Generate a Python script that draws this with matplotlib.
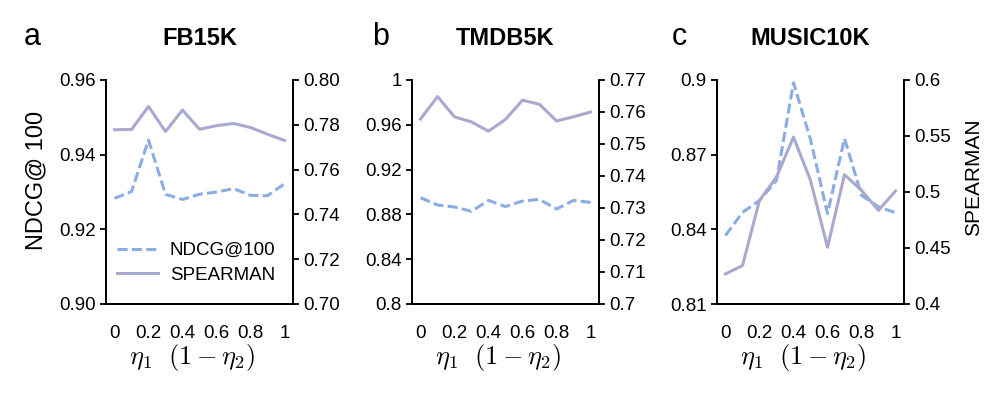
import matplotlib
matplotlib.use('Agg')
import matplotlib.pyplot as plt

plt.rcParams['font.family'] = ['Liberation Sans', 'DejaVu Sans']
plt.rcParams['mathtext.fontset'] = 'cm'

# eta_1 values (x axis)
eta = [0, 0.1, 0.2, 0.3, 0.4, 0.5, 0.6, 0.7, 0.8, 0.9, 1.0]
x_ticks = [0, 0.2, 0.4, 0.6, 0.8, 1.0]
x_ticklabels = ['0', '0.2', '0.4', '0.6', '0.8', '1']

titles = ['FB15K', 'TMDB5K', 'MUSIC10K']
letters = ['a', 'b', 'c']

# NDCG@100 (left axis)
ndcg_fb = [0.9283, 0.9301, 0.9439, 0.9294, 0.9280, 0.9294, 0.9300, 0.9309, 0.9291, 0.9290, 0.9322]
ndcg_tmdb = [0.8949, 0.8884, 0.8866, 0.8827, 0.8925, 0.8870, 0.8919, 0.8934, 0.8848, 0.8925, 0.8907]
ndcg_music = [0.8375, 0.8468, 0.8516, 0.8597, 0.8989, 0.8761, 0.8463, 0.8765, 0.8537, 0.8490, 0.8467]

# SPEARMAN (right axis)
spear_fb = [0.7778, 0.7779, 0.7882, 0.7770, 0.7866, 0.7780, 0.7796, 0.7806, 0.7788, 0.7758, 0.7730]
spear_tmdb = [0.7578, 0.7648, 0.7585, 0.7569, 0.7540, 0.7577, 0.7637, 0.7624, 0.7572, 0.7585, 0.7600]
spear_music = [0.4269, 0.4343, 0.4925, 0.5134, 0.5490, 0.5104, 0.4507, 0.5155, 0.5015, 0.4836, 0.5009]

# left axis ticks
left_ticks_fb = [0.90, 0.92, 0.94, 0.96]
left_labels_fb = ['0.90', '0.92', '0.94', '0.96']
left_ticks_tmdb = [0.80, 0.84, 0.88, 0.92, 0.96, 1.0]
left_labels_tmdb = ['0.8', '0.84', '0.88', '0.92', '0.96', '1']
left_ticks_music = [0.81, 0.84, 0.87, 0.90]
left_labels_music = ['0.81', '0.84', '0.87', '0.9']

# right axis ticks
right_ticks_fb = [0.70, 0.72, 0.74, 0.76, 0.78, 0.80]
right_labels_fb = ['0.70', '0.72', '0.74', '0.76', '0.78', '0.80']
right_ticks_tmdb = [0.70, 0.71, 0.72, 0.73, 0.74, 0.75, 0.76, 0.77]
right_labels_tmdb = ['0.7', '0.71', '0.72', '0.73', '0.74', '0.75', '0.76', '0.77']
right_ticks_music = [0.40, 0.45, 0.50, 0.55, 0.60]
right_labels_music = ['0.4', '0.45', '0.5', '0.55', '0.6']

ndcg_all = [ndcg_fb, ndcg_tmdb, ndcg_music]
spear_all = [spear_fb, spear_tmdb, spear_music]
left_ticks = [left_ticks_fb, left_ticks_tmdb, left_ticks_music]
left_labels = [left_labels_fb, left_labels_tmdb, left_labels_music]
right_ticks = [right_ticks_fb, right_ticks_tmdb, right_ticks_music]
right_labels = [right_labels_fb, right_labels_tmdb, right_labels_music]

ndcg_color = '#8cace4'
spear_color = '#a9a9cf'
tick_fs = 13.5

fig = plt.figure(figsize=(9.96, 3.95), dpi=100)
lefts = [106 / 996, 412 / 996, 717 / 996]
letter_x = [-0.44, -0.215, -0.24]

for i in range(3):
    ax = fig.add_axes([lefts[i], 91 / 395, 187 / 996, 224 / 395])
    ax2 = ax.twinx()

    l1, = ax.plot(eta, ndcg_all[i], color=ndcg_color, lw=2.2,
                  linestyle=(0, (3.3, 1.4)), label='NDCG@100')
    l2, = ax2.plot(eta, spear_all[i], color=spear_color, lw=2.2,
                   label='SPEARMAN')

    ax.set_xlim(-0.05, 1.05)
    ax.set_ylim(left_ticks[i][0], left_ticks[i][-1])
    ax2.set_ylim(right_ticks[i][0], right_ticks[i][-1])
    ax.set_xticks(x_ticks)
    ax.set_xticklabels(x_ticklabels)
    ax.set_yticks(left_ticks[i])
    ax.set_yticklabels(left_labels[i])
    ax2.set_yticks(right_ticks[i])
    ax2.set_yticklabels(right_labels[i])

    for a in (ax, ax2):
        a.spines['top'].set_visible(False)
        for s in a.spines.values():
            s.set_linewidth(1.3)
        a.tick_params(axis='y', length=4.5, width=1.3, labelsize=tick_fs, pad=3)
        a.tick_params(axis='x', length=0, labelsize=tick_fs, pad=15)

    ax.set_xlabel(r'$\eta_1\ \ (1-\eta_2)$', fontsize=19)
    ax.xaxis.set_label_coords(0.46, -0.17)

    ax.set_title(titles[i], fontsize=17, fontweight='bold', pad=25)
    ax.text(letter_x[i], 1.155, letters[i], transform=ax.transAxes,
            fontsize=22, ha='left', va='baseline')

    if i == 0:
        ax.set_ylabel('NDCG@ 100', fontsize=17, va='center')
        ax.yaxis.set_label_coords(-0.37, 0.55)
        ax.legend([l1, l2], ['NDCG@100', 'SPEARMAN'], frameon=False,
                  fontsize=13.5, loc='lower left',
                  bbox_to_anchor=(0.06, 0.09), borderaxespad=0, borderpad=0,
                  handlelength=2.2, handletextpad=0.6, labelspacing=0.4)
    if i == 2:
        ax2.set_ylabel('SPEARMAN', fontsize=15, va='center', rotation=90)
        ax2.yaxis.set_label_coords(1.37, 0.567)

fig.savefig('out.png', dpi=100)
